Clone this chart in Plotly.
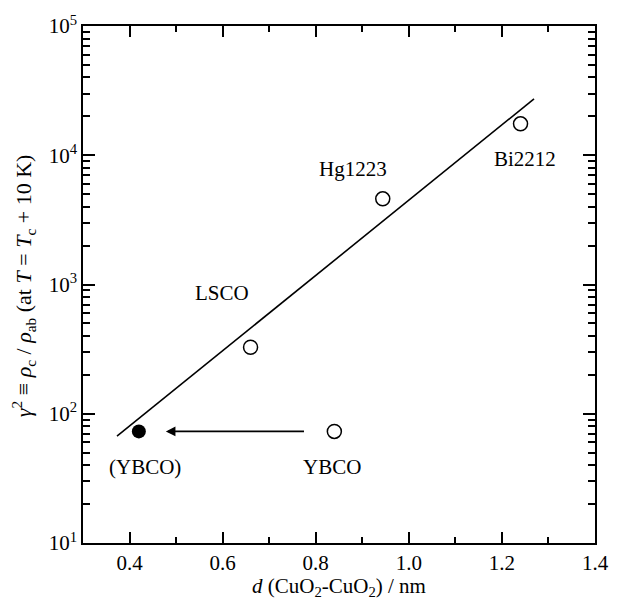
import numpy as np
import plotly.graph_objects as go

# data
open_x = [0.66, 0.944, 1.24, 0.84]
open_y = [327, 4600, 17500, 73]
filled_x = [0.42]
filled_y = [73]
fit_x = [0.373, 1.269]
fit_y = [67, 27300]
arrow_from = (0.778, 73)
arrow_to = (0.478, 73)
labels = ["LSCO", "Hg1223", "Bi2212", "(YBCO)", "YBCO"]
label_x = [0.598, 0.879, 1.250, 0.434, 0.835]
label_y = [867, 7870, 9400, 38.6, 38.6]
x_ticks = [0.4, 0.6, 0.8, 1.0, 1.2, 1.4]
x_ticktext = ["0.4", "0.6", "0.8", "1.0", "1.2", "1.4"]
x_minor = [0.3, 0.5, 0.7, 0.9, 1.1, 1.3]
y_ticks = [10, 100, 1000, 10000, 100000]
y_ticktext = ["10<sup>1</sup>", "10<sup>2</sup>", "10<sup>3</sup>", "10<sup>4</sup>", "10<sup>5</sup>"]
y_minor = [m * 10 ** e for e in range(1, 5) for m in range(2, 10)]

FONT = "Liberation Serif"

fig = go.Figure()
fig.add_trace(go.Scatter(x=fit_x, y=fit_y, mode="lines",
                         line=dict(color="black", width=1.6), hoverinfo="skip"))
fig.add_trace(go.Scatter(x=open_x, y=open_y, mode="markers",
                         marker=dict(symbol="circle-open", size=14, color="black",
                                     line=dict(width=1.5, color="black"))))
fig.add_trace(go.Scatter(x=filled_x, y=filled_y, mode="markers",
                         marker=dict(symbol="circle", size=14, color="black")))
# invisible trace for mirrored top/right axes
fig.add_trace(go.Scatter(x=fit_x, y=fit_y, xaxis="x2", yaxis="y2", mode="lines",
                         line=dict(width=0), opacity=0, hoverinfo="skip"))

fig.add_annotation(x=arrow_to[0], y=np.log10(arrow_to[1]), ax=arrow_from[0], ay=np.log10(arrow_from[1]),
                   xref="x", yref="y", axref="x", ayref="y", text="", showarrow=True,
                   arrowhead=2, arrowsize=1.2, arrowwidth=1.6, arrowcolor="black")
for t, lx, ly in zip(labels, label_x, label_y):
    fig.add_annotation(x=lx, y=np.log10(ly), xref="x", yref="y", text=t, showarrow=False,
                       font=dict(family=FONT, size=21, color="black"))

fig.add_annotation(x=-0.117, y=0.497, xref="paper", yref="paper", xanchor="center", yanchor="middle",
                   textangle=-90, showarrow=False,
                   text="<i>γ</i><sup>2</sup> ≡ <i>ρ</i><sub>c</sub> / <i>ρ</i><sub>ab</sub> (at <i>T</i> = <i>T</i><sub>c</sub> + 10 K)",
                   font=dict(family=FONT, size=22, color="black"))
fig.add_annotation(x=0.5, y=-0.086, xref="paper", yref="paper", xanchor="center", yanchor="middle",
                   showarrow=False,
                   text="<i>d</i> (CuO<sub>2</sub>-CuO<sub>2</sub>) / nm",
                   font=dict(family=FONT, size=21, color="black"))

common = dict(ticks="inside", tickwidth=1.5, tickcolor="black", showline=True, linecolor="black",
              linewidth=1.5, showgrid=False, zeroline=False)
xcommon = dict(range=[0.3, 1.4], tickvals=x_ticks, ticklen=11,
               minor=dict(tickvals=x_minor, ticks="inside", ticklen=6, tickwidth=1.5,
                          tickcolor="black", showgrid=False), **common)
ycommon = dict(type="log", range=[1, 5], tickvals=y_ticks, ticklen=12,
               minor=dict(tickvals=y_minor, ticks="inside", ticklen=7, tickwidth=1.5,
                          tickcolor="black", showgrid=False), **common)

fig.update_layout(
    xaxis=dict(ticktext=x_ticktext, tickfont=dict(family=FONT, size=21, color="black"), **xcommon),
    yaxis=dict(ticktext=y_ticktext, tickfont=dict(family=FONT, size=21, color="black"), **ycommon),
    xaxis2=dict(overlaying="x", side="top", showticklabels=False, **xcommon),
    yaxis2=dict(overlaying="y", side="right", showticklabels=False, **ycommon),
    width=621, height=602, margin=dict(l=83, r=17, t=25, b=59),
    plot_bgcolor="white", paper_bgcolor="white", showlegend=False)
fig.write_html("out.html")
